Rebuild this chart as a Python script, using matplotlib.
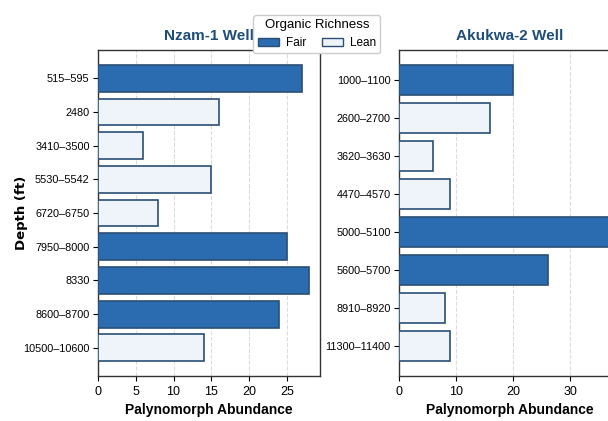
import matplotlib.pyplot as plt
from matplotlib.patches import Patch
from matplotlib.ticker import MultipleLocator

# depth intervals and palynomorph counts per well
nzam_depths = ["515–595", "2480", "3410–3500", "5530–5542", "6720–6750",
               "7950–8000", "8330", "8600–8700", "10500–10600"]
nzam_counts = [27, 16, 6, 15, 8, 25, 28, 24, 14]
nzam_class = ["Fair", "Lean", "Lean", "Lean", "Lean", "Fair", "Fair", "Fair", "Lean"]

akukwa_depths = ["1000–1100", "2600–2700", "3620–3630", "4470–4570",
                 "5000–5100", "5600–5700", "8910–8920", "11300–11400"]
akukwa_counts = [20, 16, 6, 9, 37, 26, 8, 9]
akukwa_class = ["Fair", "Lean", "Lean", "Lean", "Fair", "Fair", "Lean", "Lean"]

fill = {"Fair": "#2b6cb0", "Lean": "#eef4fa"}
edge = "#2a4f75"
title_color = "#1f4e79"

plt.rcParams["font.family"] = ["Liberation Sans", "DejaVu Sans"]

fig = plt.figure(figsize=(6.08, 4.21), dpi=100)
ax1 = fig.add_axes([0.1612, 0.1069, 0.3651, 0.7743])
ax2 = fig.add_axes([0.6563, 0.1069, 0.3651, 0.7743])


def draw_well(ax, depths, counts, classes, title, step):
    y = range(len(depths))
    ax.barh(y, counts, height=0.8,
            color=[fill[c] for c in classes],
            edgecolor=edge, linewidth=1.2, zorder=3)
    ax.set_yticks(list(y))
    ax.set_yticklabels(depths, fontsize=7.8)
    ax.invert_yaxis()
    ax.xaxis.set_major_locator(MultipleLocator(step))
    ax.tick_params(axis="x", labelsize=9)
    ax.tick_params(axis="y", pad=2.5)
    ax.grid(axis="x", linestyle="--", color="#cccccc", alpha=0.7, zorder=0)
    ax.set_axisbelow(True)
    ax.set_title(title, fontsize=11, fontweight="bold", color=title_color, pad=7)
    ax.set_xlabel("Palynomorph Abundance", fontsize=10, fontweight="bold",
                  labelpad=4)
    for s in ax.spines.values():
        s.set_color("#333333")
        s.set_linewidth(1.0)


draw_well(ax1, nzam_depths, nzam_counts, nzam_class, "Nzam-1 Well", 5)
draw_well(ax2, akukwa_depths, akukwa_counts, akukwa_class, "Akukwa-2 Well", 10)
ax1.set_ylabel("Depth (ft)", fontsize=9.5, fontweight="bold",
               family="DejaVu Sans")
ax1.yaxis.set_label_coords(-0.315, 0.5)

handles = [Patch(facecolor=fill["Fair"], edgecolor=edge, label="Fair"),
           Patch(facecolor=fill["Lean"], edgecolor=edge, label="Lean")]
fig.legend(handles=handles, title="Organic Richness", ncol=2,
           loc="upper center", bbox_to_anchor=(0.521, 0.978),
           fontsize=8.5, title_fontsize=9.5, framealpha=1.0,
           handlelength=1.8, columnspacing=1.3, borderpad=0.35,
           handletextpad=0.6)

fig.savefig("out.png", dpi=100)
